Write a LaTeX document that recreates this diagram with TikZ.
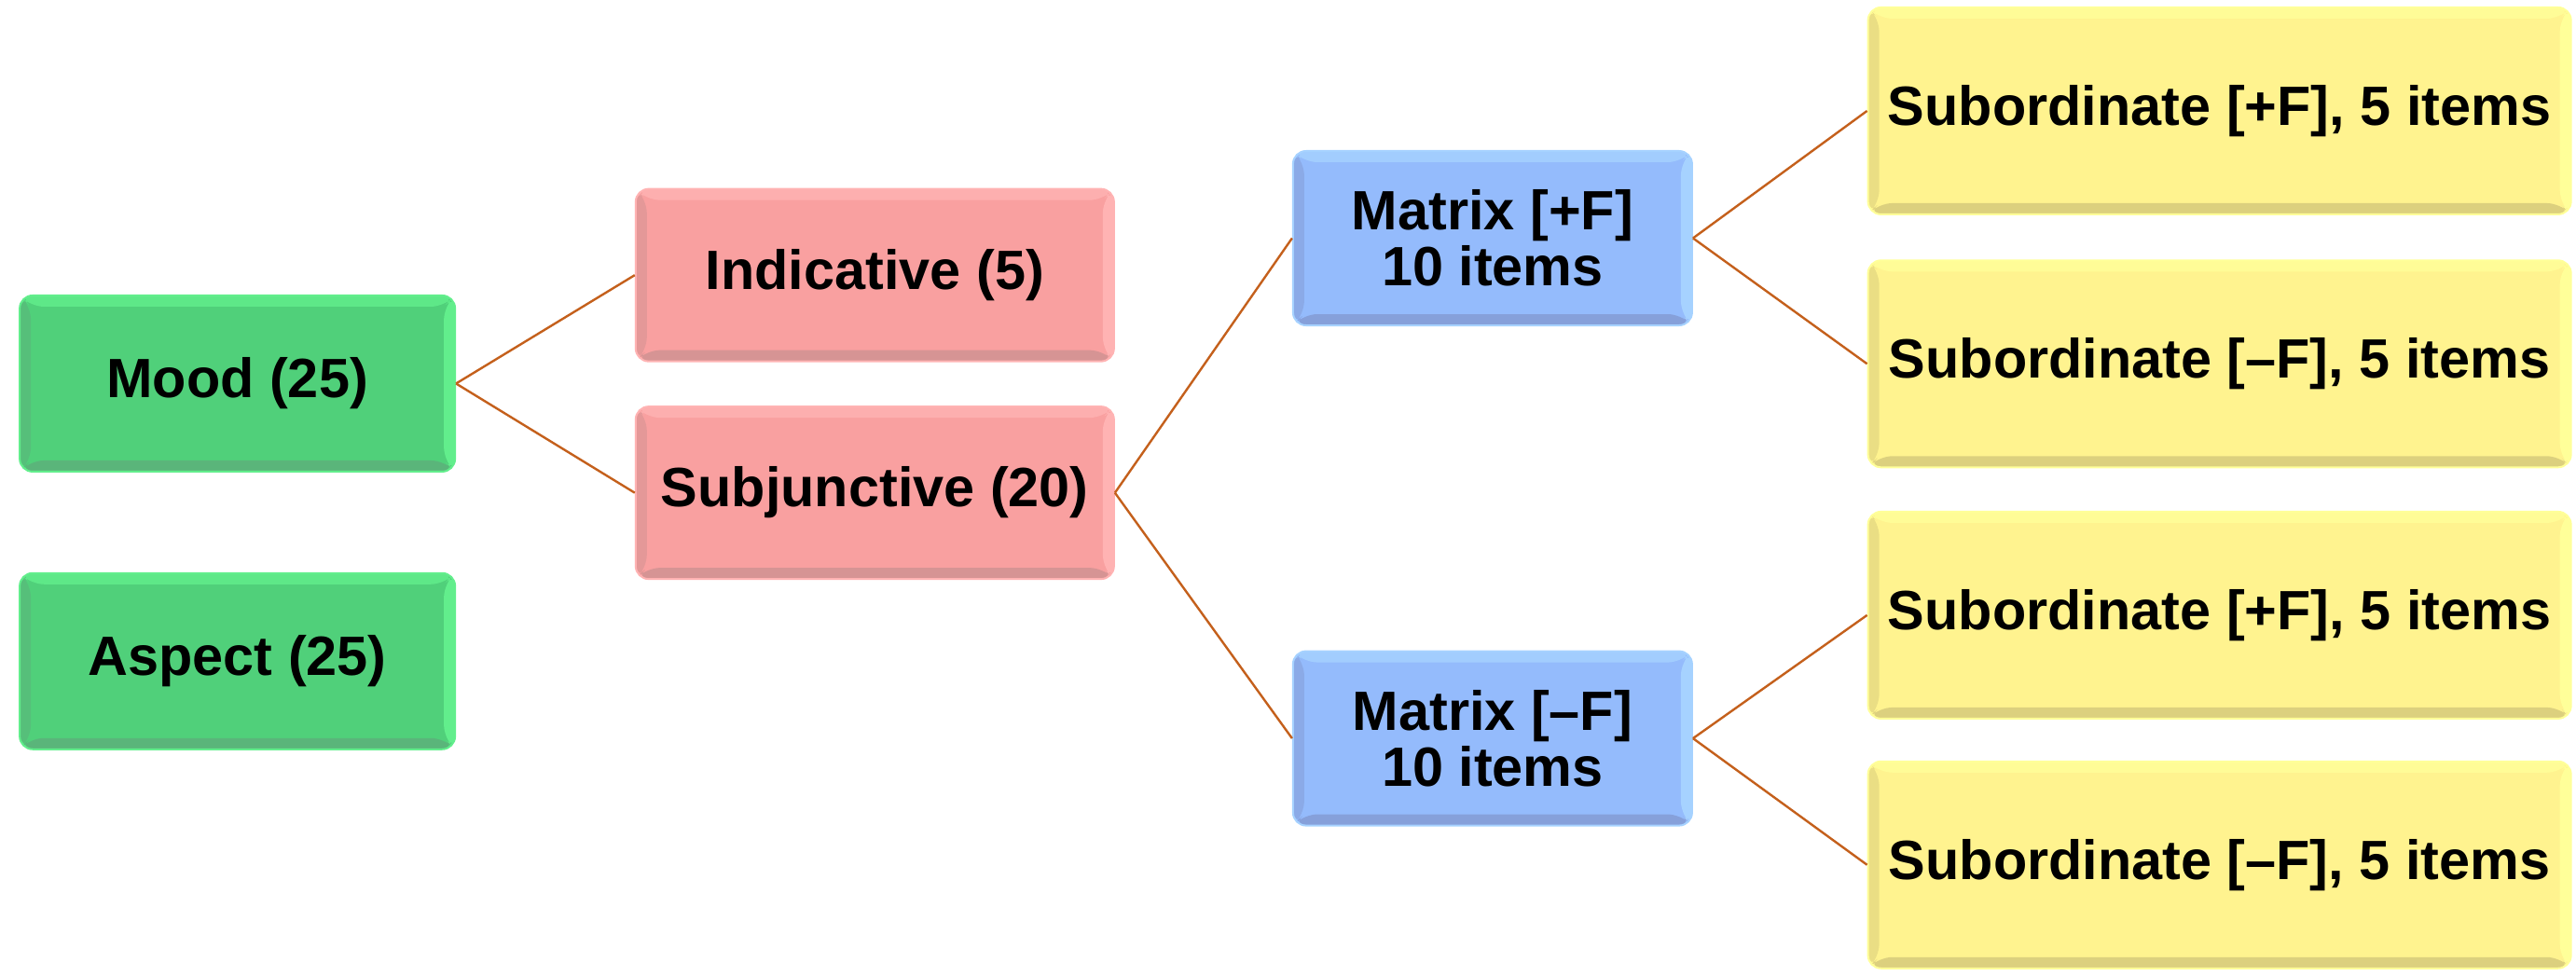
\documentclass[tikz,border=0pt]{standalone}
\usepackage{fontspec}
\setmainfont{Liberation Sans}
\begin{document}
\begin{tikzpicture}[x=1.762pt,y=-1.762pt,
  bev/.store in=\bevcol,
  boxbase/.style args={#1/#2/#3}{rounded corners=14pt, inner sep=0pt, align=center,
    font=\fontsize{59.4pt}{60pt}\selectfont\bfseries, fill=#1, draw=#2, line width=2pt,
    path picture={
      \fill[#3] (path picture bounding box.south west) -- (path picture bounding box.south east)
        -- ([shift={(-12pt,12pt)}]path picture bounding box.south east) -- ([shift={(12pt,12pt)}]path picture bounding box.south west) -- cycle;
      \fill[#3,opacity=0.6] (path picture bounding box.south west) -- (path picture bounding box.north west)
        -- ([shift={(12pt,-12pt)}]path picture bounding box.north west) -- ([shift={(12pt,12pt)}]path picture bounding box.south west) -- cycle;
      \fill[#2,opacity=0.8] (path picture bounding box.north west) -- (path picture bounding box.north east)
        -- ([shift={(-12pt,-12pt)}]path picture bounding box.north east) -- ([shift={(12pt,-12pt)}]path picture bounding box.north west) -- cycle;
      \fill[#2] (path picture bounding box.north east) -- (path picture bounding box.south east)
        -- ([shift={(-12pt,12pt)}]path picture bounding box.south east) -- ([shift={(-12pt,-12pt)}]path picture bounding box.north east) -- cycle;
    }},
  greenbox/.style={boxbase={green1/green2/green3}, minimum width=467pt, minimum height=189pt},
  pinkbox/.style={boxbase={pink1/pink2/pink3}, minimum width=513pt, minimum height=185pt},
  bluebox/.style={boxbase={blue1/blue2/blue3}, minimum width=428pt, minimum height=187pt},
  yellowbox/.style={boxbase={yellow1/yellow2/yellow3}, minimum width=754pt, minimum height=222pt},
  link/.style={draw=linkcol, line width=2.4pt}
]
\definecolor{green1}{HTML}{50D07A}
\definecolor{green2}{HTML}{62EE8C}
\definecolor{green3}{HTML}{5AB57A}
\definecolor{pink1}{HTML}{F9A0A0}
\definecolor{pink2}{HTML}{FFB3B3}
\definecolor{pink3}{HTML}{D69494}
\definecolor{blue1}{HTML}{94BBFC}
\definecolor{blue2}{HTML}{A6D2FF}
\definecolor{blue3}{HTML}{86A0DA}
\definecolor{yellow1}{HTML}{FFF38F}
\definecolor{yellow2}{HTML}{FFFF99}
\definecolor{yellow3}{HTML}{DCD07E}
\definecolor{linkcol}{HTML}{C4601C}
\useasboundingbox (0,0) rectangle (1568,594);

\node[greenbox] (mood) at (144.5,233.5) {Mood (25)};
\node[greenbox] (aspect) at (144.5,402.5) {Aspect (25)};
\node[pinkbox] (ind) at (532.5,167.5) {Indicative (5)};
\node[pinkbox] (subj) at (532.5,300) {Subjunctive (20)};
\node[bluebox] (mpf) at (908.5,145) {Matrix [+F]\\10 items};
\node[bluebox] (mmf) at (908.5,449.5) {Matrix [–F]\\10 items};
\node[yellowbox] (s1) at (1351,67.5) {Subordinate [+F], 5 items};
\node[yellowbox] (s2) at (1351,221.5) {Subordinate [–F], 5 items};
\node[yellowbox] (s3) at (1351,374.5) {Subordinate [+F], 5 items};
\node[yellowbox] (s4) at (1351,526.5) {Subordinate [–F], 5 items};

\draw[link] (mood.east) -- (ind.west);
\draw[link] (mood.east) -- (subj.west);
\draw[link] (subj.east) -- (mpf.west);
\draw[link] (subj.east) -- (mmf.west);
\draw[link] (mpf.east) -- (s1.west);
\draw[link] (mpf.east) -- (s2.west);
\draw[link] (mmf.east) -- (s3.west);
\draw[link] (mmf.east) -- (s4.west);
\end{tikzpicture}
\end{document}
